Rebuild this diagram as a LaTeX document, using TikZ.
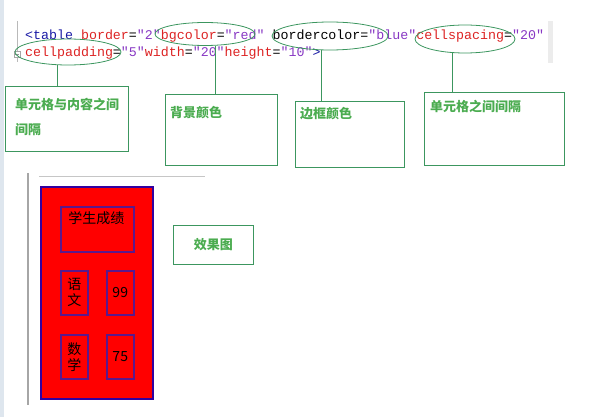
\documentclass[tikz,border=0pt]{standalone}
\usepackage{fontspec}
\setmonofont{Liberation Mono}
\newfontfamily\cjk{Noto Sans CJK SC}
\usetikzlibrary{shapes.geometric}

\definecolor{notegreen}{RGB}{60,150,95}
\definecolor{notetext}{RGB}{75,172,80}
\definecolor{tagblue}{RGB}{25,25,165}
\definecolor{attrred}{RGB}{220,35,35}
\definecolor{valpurple}{RGB}{135,55,195}
\definecolor{tblborder}{RGB}{50,0,160}
\definecolor{cellborder}{RGB}{90,25,140}
\definecolor{edgestrip}{RGB}{222,230,238}

\newcommand{\cTag}[1]{\textcolor{tagblue}{#1}}
\newcommand{\cAttr}[1]{\textcolor{attrred}{#1}}
\newcommand{\cVal}[1]{\textcolor{valpurple}{#1}}

\tikzset{
  codeline/.style={anchor=base west, inner sep=0, font=\ttfamily\fontsize{13.3}{13.3}\selectfont},
  ringnote/.style={ellipse, draw=notegreen, line width=0.8pt, inner sep=0},
  notebox/.style={draw=notegreen, line width=0.8pt, anchor=north west, inner sep=0},
  noteline/.style={draw=notegreen, line width=0.8pt},
  notetxt/.style={anchor=north west, inner sep=0, align=left, text=notetext, font=\cjk\bfseries\fontsize{13}{25}\selectfont},
  cellbox/.style={rectangle, draw=cellborder, line width=1.5pt, anchor=north west, inner sep=0, align=center, font=\cjk\fontsize{14}{16}\selectfont},
  celltxt/.style={inner sep=0, align=center, font=\cjk\fontsize{14}{16}\selectfont}
}

\begin{document}
\begin{tikzpicture}[x=1pt,y=-1pt]
\useasboundingbox (0,0) rectangle (596,417);
\fill[edgestrip] (0,0) rectangle (4,417);

% code editor
\draw[gray!55] (17,21) -- (17,62);
\fill[gray!15] (548,21) rectangle (553,63);
\node[draw=gray!70, fill=white, minimum size=6, inner sep=0] (fold) at (17,54) {};
\draw[gray!80] ([xshift=1.5pt]fold.west) -- ([xshift=-1.5pt]fold.east);

\node[codeline] (line2) at (25,40) {\cTag{<table} \cAttr{border}=\cVal{"2"}\cAttr{bgcolor}=\cVal{"red"} bordercolor=\cVal{"blue"}\cAttr{cellspacing}=\cVal{"20"}};
\node[codeline] (line3) at (25,57) {\cAttr{cellpadding}=\cVal{"5"}\cAttr{width}=\cVal{"20"}\cAttr{height}=\cVal{"10"}\cTag{>}};

% ellipses round the attributes
\node[ringnote, minimum width=100, minimum height=23] (rbg) at (205,34) {};
\node[ringnote, minimum width=116, minimum height=28] (rborder) at (330,36) {};
\node[ringnote, minimum width=100, minimum height=28] (rspace) at (465,39) {};
\node[ringnote, minimum width=106, minimum height=26] (rpad) at (68,52) {};

% note boxes
\node[notebox, minimum width=123, minimum height=65] (bpad) at (5,86) {};
\node[notebox, minimum width=112, minimum height=71] (bbg) at (165,94) {};
\node[notebox, minimum width=109, minimum height=66] (bborder) at (295,101) {};
\node[notebox, minimum width=140, minimum height=73] (bspace) at (424,92) {};

\node[notetxt] (tpad) at (15,98) {单元格与内容之间\\间隔};
\node[notetxt] (tbg) at (170,106) {背景颜色};
\node[notetxt] (tborder) at (300,107) {边框颜色};
\node[notetxt] (tspace) at (430,100) {单元格之间间隔};

\coordinate (kpad) at ([xshift=-11pt]rpad.south);
\coordinate (kbg) at ([xshift=10pt]rbg.south);
\coordinate (kborder) at ([xshift=-9pt]rborder.south);
\coordinate (kspace) at ([xshift=-13pt]rspace.south);
\draw[noteline] (kpad) -- (kpad |- bpad.north);
\draw[noteline] (kbg) -- (kbg |- bbg.north);
\draw[noteline] (kborder) -- (kborder |- bborder.north);
\draw[noteline] (kspace) -- (kspace |- bspace.north);

% rendered table
\draw[gray!70, line width=1.6] (28,173) -- (28,405);
\draw[gray!45, line width=1] (39,176) -- (205,176);
\node[draw=tblborder, fill=red, line width=2, anchor=north west, minimum width=112, minimum height=212, inner sep=0] (tbl) at (40,186) {};

\node[cellbox, minimum width=73, minimum height=45] (chead) at (60,206) {};
\node[celltxt, anchor=north] (thead) at ([yshift=-5pt,xshift=-1pt]chead.north) {学生成绩};
\node[cellbox, minimum width=27, minimum height=44] (cyu) at (60,270) {语\\文};
\node[cellbox, minimum width=27, minimum height=44] (c99) at (106,270) {99};
\node[cellbox, minimum width=27, minimum height=44] (cshu) at (60,334) {数\\学};
\node[cellbox, minimum width=27, minimum height=44] (c75) at (106,334) {75};

\node[notebox, minimum width=80, minimum height=39] (beff) at (173,225) {};
\node[notetxt, anchor=center] (teff) at (beff.center) {效果图};
\end{tikzpicture}
\end{document}
